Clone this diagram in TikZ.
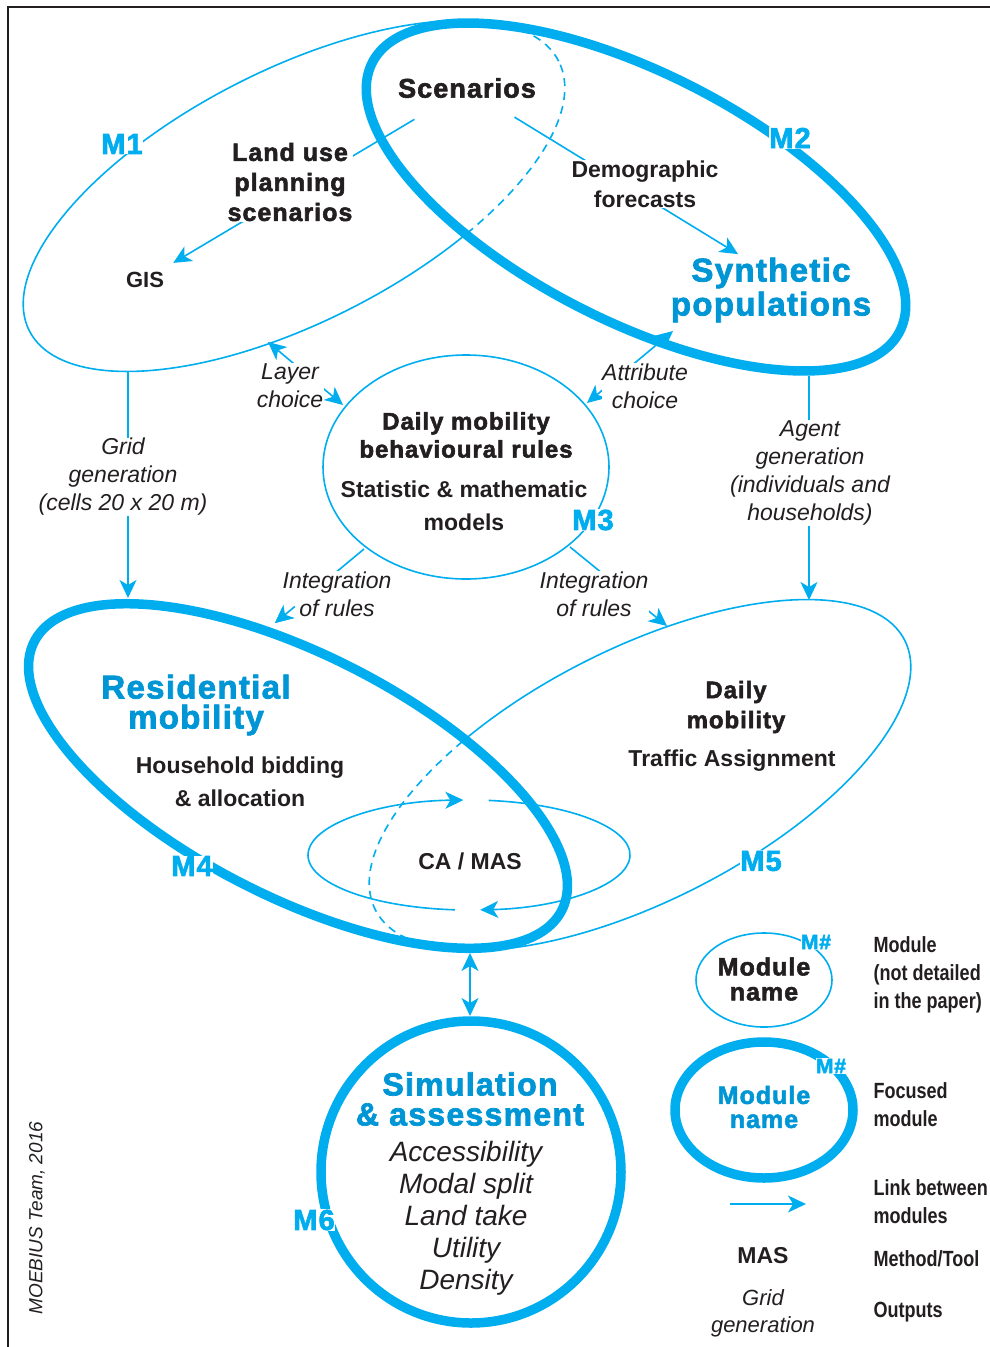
\documentclass[tikz,border=0pt]{standalone}
\usepackage{fontspec}
\setmainfont{Liberation Sans}
\newfontfamily\heavyfont[FakeBold=2.2,LetterSpace=4]{Liberation Sans}
\newfontfamily\narrowfont[FakeStretch=0.82]{Liberation Sans}
\usepackage{tikz}
\usetikzlibrary{arrows.meta,calc,positioning}
\definecolor{mcyan}{RGB}{0,174,239}
\definecolor{mblue}{RGB}{0,150,214}
\definecolor{mtext}{RGB}{35,31,32}

\tikzset{
  module/.style={draw=mcyan, line width=1.6pt},
  focused/.style={draw=mcyan, line width=9.5pt},
  hidden/.style={draw=mcyan, line width=1.6pt, dash pattern=on 8pt off 6pt},
  link/.style={draw=mcyan, line width=1.6pt},
  heavy/.style 2 args={font=\heavyfont\bfseries\fontsize{#1}{#2}\selectfont, align=center},
  plain/.style 2 args={font=\bfseries\fontsize{#1}{#2}\selectfont, align=center},
  outtext/.style 2 args={font=\itshape\fontsize{#1}{#2}\selectfont, align=center},
  cover/.style={fill=white, inner sep=0.5pt},
  mlabel/.style={font=\heavyfont\bfseries\fontsize{29}{29}\selectfont, text=mcyan, fill=white, inner sep=0.5pt},
  note/.style={font=\narrowfont\bfseries\fontsize{22}{28}\selectfont, anchor=west, align=left},
}

\begin{document}
\begin{tikzpicture}[x=1pt, y=1pt, >={Stealth[length=18pt,width=17pt,inset=5pt]},
  every node/.style={text=mtext}]

\useasboundingbox (0,0) rectangle (990,-1347);
\draw[mtext, line width=2pt] (8,-1347) -- (8,-7) -- (990,-7);

% module centres
\coordinate (c1) at (294,-196);
\coordinate (c2) at (636,-197);
\coordinate (c3) at (466,-467);
\coordinate (c4) at (298,-776);
\coordinate (c5) at (640,-775);
\coordinate (c6) at (471,-1172);
\coordinate (cam) at (469,-855);

% M1 partly hidden by M2
\draw[module, rotate around={27:(c1)}] (c1) ellipse [x radius=297, y radius=126];
\begin{scope}
  \clip[rotate around={-27:(c2)}] (c2) ellipse [x radius=296, y radius=124];
  \fill[white] (0,0) rectangle (990,-1347);
  \draw[hidden, rotate around={27:(c1)}] (c1) ellipse [x radius=297, y radius=126];
\end{scope}
\draw[focused, rotate around={-27:(c2)}] (c2) ellipse [x radius=296, y radius=124];

\draw[module] (c3) ellipse [x radius=143, y radius=112];

% M5 partly hidden by M4
\draw[module, rotate around={27:(c5)}] (c5) ellipse [x radius=297, y radius=126];
\begin{scope}
  \clip[rotate around={-27:(c4)}] (c4) ellipse [x radius=296, y radius=121];
  \fill[white] (0,0) rectangle (990,-1347);
  \draw[hidden, rotate around={27:(c5)}] (c5) ellipse [x radius=297, y radius=126];
\end{scope}
\draw[link, ->] ($(cam)+(265:161 and 55)$) arc [start angle=265, end angle=92, x radius=161, y radius=55];
\draw[link, ->] ($(cam)+(83:161 and 55)$) arc [start angle=83, end angle=-86, x radius=161, y radius=55];
\draw[focused, rotate around={-27:(c4)}] (c4) ellipse [x radius=296, y radius=121];

\draw[focused] (c6) ellipse [x radius=150, y radius=151];

% legend shapes
\coordinate (leg1) at (764,-980);
\coordinate (leg2) at (764,-1110);
\draw[module] (leg1) ellipse [x radius=68, y radius=47];
\draw[focused] (leg2) ellipse [x radius=89, y radius=68];

% border points of the modules
\coordinate (m1-s) at (128,-372);
\coordinate (m4-n) at (128,-598);
\coordinate (m2-s) at (809,-376);
\coordinate (m5-n) at (809,-600);
\coordinate (m1-se) at (268,-342);
\coordinate (m3-nw) at (343,-405);
\coordinate (m2-sw) at (673,-331);
\coordinate (m3-ne) at (587,-403);
\coordinate (m3-sw) at (364,-549);
\coordinate (m4-ne) at (275,-623);
\coordinate (m3-se) at (570,-547);
\coordinate (m5-nw) at (667,-626);
\coordinate (m4-s) at (470,-953);
\coordinate (m6-n) at (470,-1016);
\coordinate (leg-a) at (730,-1204);
\coordinate (leg-b) at (806,-1204);

\node[heavy={27}{30}] (scen) at (467,-88) {Scenarios};
\node[plain={22}{26}, outer sep=6pt] (gis) at (145,-280) {GIS};
\node[heavy={33}{34}, text=mblue] (syn) at (771,-290) {Synthetic\\populations};

\draw[link, ->, shorten <=35pt] (scen) -- (gis.north east);
\draw[link, ->, shorten <=30pt] (scen) -- ([xshift=-33pt]syn.north);
\draw[link, <->] (m1-se) -- (m3-nw);
\draw[link, <->] (m2-sw) -- (m3-ne);
\draw[link, ->] (m1-s) -- (m4-n);
\draw[link, ->] (m2-s) -- (m5-n);
\draw[link, ->] (m3-sw) -- (m4-ne);
\draw[link, ->] (m3-se) -- (m5-nw);
\draw[link, <->] (m4-s) -- (m6-n);
\draw[link, ->] (leg-a) -- (leg-b);

% link labels
\node[heavy={25}{30}, cover] (landuse) at (290,-182) {Land use\\planning\\scenarios};
\node[plain={23}{30}, cover] (demo) at (645,-184) {Demographic\\forecasts};
\node[outtext={23}{28}, cover] (layer) at (290,-386) {Layer\\choice};
\node[outtext={23}{28}, cover] (attr) at (645,-386) {Attribute\\choice};
\node[outtext={23}{28}, cover] (grid) at (123,-477) {Grid\\generation\\(cells 20 x 20 m)};
\node[outtext={23}{28}, cover] (agent) at (810,-473) {Agent\\generation\\(individuals and\\households)};
\node[outtext={23}{28}, cover] (integl) at (337,-594) {Integration\\of rules};
\node[outtext={23}{28}, cover] (integr) at (594,-594) {Integration\\of rules};
\draw[link, ->, shorten <=90pt] (m3-sw) -- (m4-ne); % tip over the label

% module contents
\node[heavy={24}{28}] (rules) at (466,-435) {Daily mobility\\behavioural rules};
\node[plain={23}{33}] (stat) at (464,-506) {Statistic \& mathematic\\models};
\node[heavy={33}{30}, text=mblue] (resid) at (196,-705) {Residential\\mobility};
\node[plain={23}{33}] (bid) at (240,-782) {Household bidding\\\& allocation};
\node[heavy={24}{30}] (daily) at (736,-707) {Daily\\mobility};
\node[plain={23}{26}] (traffic) at (732,-761) {Traffic Assignment};
\node[plain={23}{26}] (camas) at (470,-861) {CA / MAS};
\node[heavy={32}{30}, text=mblue] (sim) at (470,-1099) {Simulation\\\& assessment};
\node[outtext={28}{32}] (outs) at (466,-1218) {Accessibility\\Modal split\\Land take\\Utility\\Density};

% module numbers
\node[mlabel] (lab1) at (122,-144) {M1};
\node[mlabel] (lab2) at (790,-138) {M2};
\node[mlabel] (lab3) at (593,-520) {M3};
\node[mlabel] (lab4) at (192,-866) {M4};
\node[mlabel] (lab5) at (761,-861) {M5};
\node[mlabel] (lab6) at (314,-1220) {M6};

% legend
\node[mlabel, font=\heavyfont\bfseries\fontsize{21}{21}\selectfont] (leglab1) at (816,-942) {M\#};
\node[mlabel, font=\heavyfont\bfseries\fontsize{21}{21}\selectfont] (leglab2) at (831,-1066) {M\#};
\node[heavy={25}{25}] (legname1) at (764,-979) {Module\\name};
\node[heavy={25}{24}, text=mblue] (legname2) at (764,-1107) {Module\\name};
\node[plain={23}{26}] (legmas) at (763,-1256) {MAS};
\node[outtext={22}{27}] (legout) at (763,-1313) {Grid\\generation};
\node[note] (note1) at (870,-975) {Module\\(not detailed\\in the paper)};
\node[note] (note2) at (870,-1105) {Focused\\module};
\node[note] (note3) at (870,-1202) {Link between\\modules};
\node[note] (note4) at (870,-1259) {Method/Tool};
\node[note] (note5) at (870,-1312) {Outputs};

\node[rotate=90, font=\itshape\fontsize{19}{19}\selectfont] (credit) at (37,-1218) {MOEBIUS Team, 2016};

\end{tikzpicture}
\end{document}
